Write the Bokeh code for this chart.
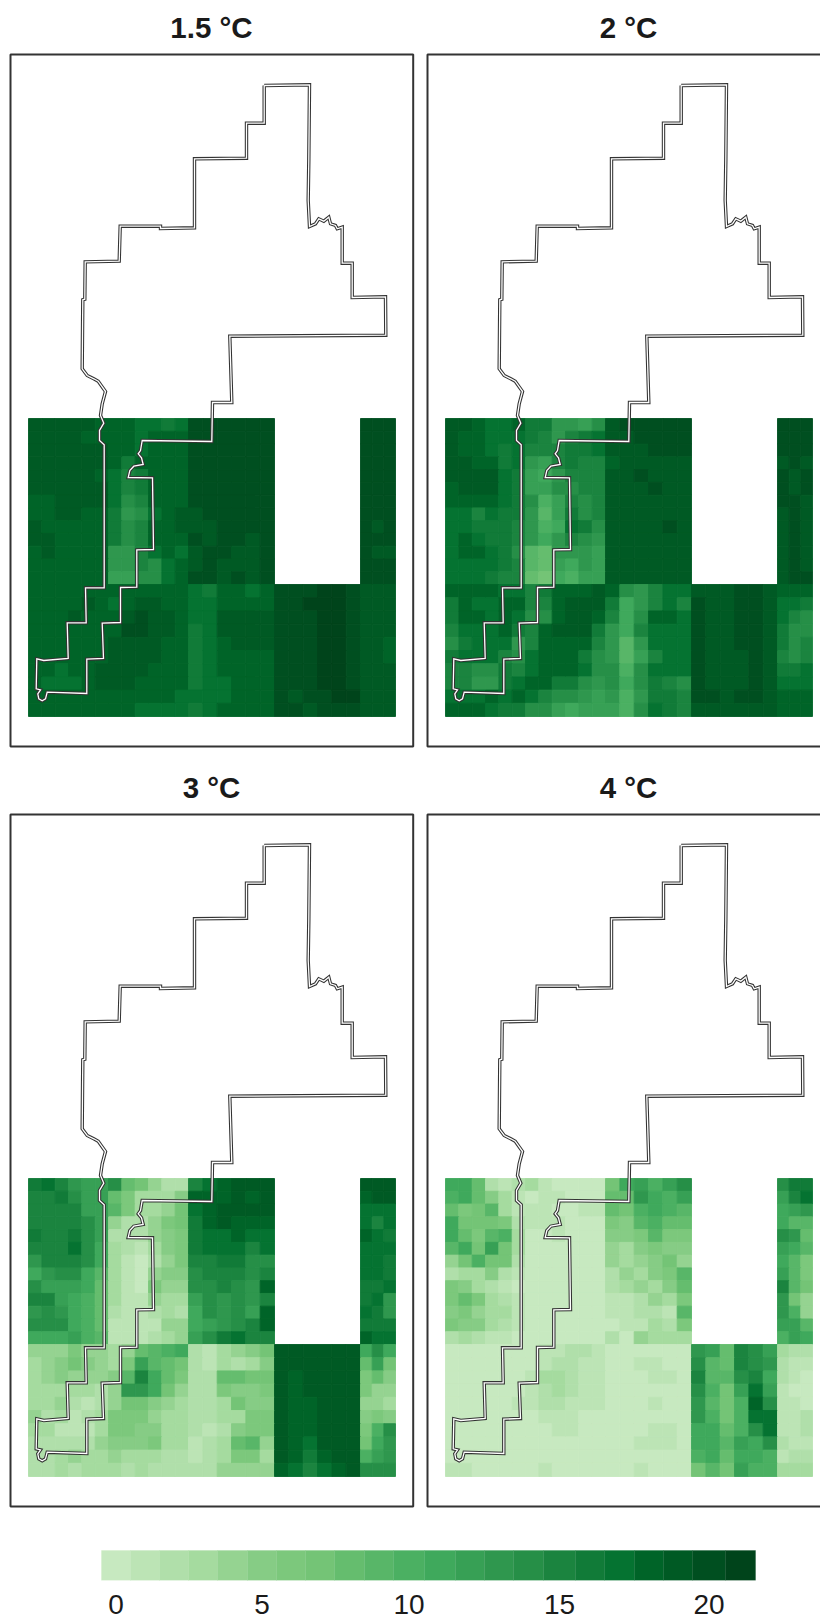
from bokeh.plotting import figure
from bokeh.layouts import column, row
from bokeh.models import ColumnDataSource, LinearColorMapper, FixedTicker, LinearAxis
from bokeh.transform import transform
from bokeh.core.properties import value
from bokeh.embed import file_html
from bokeh.resources import INLINE

TITLES = ["1.5 °C", "2 °C", "3 °C", "4 °C"]
PALETTE = ["#c7e9c0", "#bce4b5", "#b0dfaa", "#a5db9f", "#95d391", "#86cc85", "#7cc87c", "#74c476",
           "#65bd6e", "#58b668", "#4bb062", "#3fa95c", "#37a055", "#2f974e", "#268f47", "#1b843f",
           "#117b38", "#057331", "#006428", "#005a24", "#004f20", "#00441b"]
LEGEND_TICKS = [0, 5, 10, 15, 20]
LEGEND_BREAKS = [101, 130, 159, 188, 217, 247, 276, 305, 334, 364, 393, 424, 455, 484, 513, 543, 575, 604, 634, 663, 692, 725, 755]
N = None

# Map-unit edges of the gridded climate tiles
TILE_X = [28, 188, 274, 360, 395]
TILE_COLS = [12, 6, 6, 3]
TILE_Y = [418, 584, 716]
TILE_ROWS = [13, 10]

PANEL_15 = [
 [19,19,19,19,19,18,18,18,17,17,16,17, 20,20,20,20,20,20, N,N,N,N,N,N, 20,20,20],
 [19,19,19,19,18,18,18,18,17,18,18,18, 20,20,20,20,20,20, N,N,N,N,N,N, 20,20,20],
 [19,19,19,19,19,19,18,18,17,18,18,18, 20,20,20,20,20,20, N,N,N,N,N,N, 20,20,20],
 [19,19,19,19,19,19,18,16,18,18,18,18, 20,20,20,20,20,20, N,N,N,N,N,N, 20,20,20],
 [19,19,19,19,19,18,17,15,16,18,18,18, 20,20,20,20,20,20, N,N,N,N,N,N, 20,20,20],
 [19,19,19,19,19,19,17,15,16,18,18,18, 20,20,20,20,20,20, N,N,N,N,N,N, 20,20,20],
 [18,18,19,19,19,19,17,14,15,18,18,18, 20,20,20,20,20,20, N,N,N,N,N,N, 20,20,20],
 [18,18,19,19,18,18,16,13,14,17,18,19, 19,20,20,20,20,20, N,N,N,N,N,N, 20,20,20],
 [19,18,18,18,18,18,16,14,15,18,18,19, 19,19,20,20,20,20, N,N,N,N,N,N, 20,19,20],
 [19,19,18,18,18,18,16,14,15,18,18,18, 20,19,20,20,19,20, N,N,N,N,N,N, 20,20,20],
 [18,19,18,18,18,18,13,13,15,17,18,17, 19,20,20,19,19,20, N,N,N,N,N,N, 20,19,19],
 [18,18,18,18,18,18,13,13,15,14,17,18, 19,20,19,19,19,20, N,N,N,N,N,N, 20,20,20],
 [18,18,18,18,18,18,12,12,14,14,17,18, 20,20,19,20,19,20, N,N,N,N,N,N, 20,20,20],
 [18,18,18,18,18,18,18,18,18,18,18,18, 17,16,18,18,17,18, 20,20,20,21,21,20, 19,19,19],
 [18,18,18,18,19,18,17,18,19,19,18,18, 17,17,18,18,18,18, 20,20,21,21,21,20, 19,19,19],
 [18,18,18,19,18,18,18,19,20,19,19,18, 17,17,19,19,19,19, 20,20,20,21,21,20, 19,19,19],
 [18,18,18,18,18,18,18,20,20,19,19,18, 16,17,19,19,19,19, 20,20,20,21,21,20, 19,19,19],
 [18,18,18,18,18,18,19,19,19,19,18,18, 16,17,18,19,19,19, 20,20,20,21,21,20, 19,19,18],
 [18,18,18,18,18,18,19,19,19,19,18,18, 16,17,18,18,18,18, 20,20,20,21,21,20, 19,19,18],
 [18,18,17,18,18,19,19,19,19,18,18,18, 16,17,18,18,18,18, 20,20,20,21,21,20, 19,19,19],
 [18,17,17,17,18,19,19,19,18,18,18,18, 16,17,17,18,18,18, 20,20,20,21,21,20, 19,19,19],
 [18,18,18,18,18,18,18,18,18,18,18,17, 17,17,17,18,18,18, 20,19,20,20,21,21, 19,19,19],
 [18,18,18,18,18,18,18,18,17,17,17,17, 16,17,18,18,18,18, 20,20,19,20,20,20, 19,19,19],
]

PANEL_20 = [
 [19,19,18,17,17,18,16,16,13,13,12,14, 19,20,20,20,20,20, N,N,N,N,N,N, 20,20,20],
 [19,18,18,17,17,17,16,15,13,15,16,17, 19,19,20,20,20,20, N,N,N,N,N,N, 20,20,20],
 [19,18,18,17,16,17,15,15,15,16,16,17, 19,19,19,20,20,20, N,N,N,N,N,N, 20,20,20],
 [19,19,18,18,16,17,13,12,15,16,15,15, 18,19,19,19,19,19, N,N,N,N,N,N, 19,20,19],
 [19,19,19,19,17,16,12,11,13,15,15,15, 19,19,20,19,19,19, N,N,N,N,N,N, 20,19,20],
 [18,19,19,19,17,16,12,12,14,14,15,15, 19,19,19,20,19,19, N,N,N,N,N,N, 20,19,20],
 [18,18,18,18,17,16,14,10,12,15,14,15, 19,19,19,19,19,19, N,N,N,N,N,N, 20,20,19],
 [17,17,15,17,16,16,13,9,12,16,14,15, 19,19,19,19,19,19, N,N,N,N,N,N, 19,20,19],
 [17,17,16,16,16,15,13,10,11,17,16,14, 19,19,19,19,20,19, N,N,N,N,N,N, 19,20,19],
 [17,18,17,16,16,15,13,11,13,15,14,13, 19,19,19,19,19,19, N,N,N,N,N,N, 19,20,19],
 [17,18,18,17,16,14,9,8,13,13,13,12, 19,19,19,19,19,19, N,N,N,N,N,N, 19,20,19],
 [17,17,17,17,16,15,9,8,12,11,13,12, 19,19,19,19,19,19, N,N,N,N,N,N, 19,20,19],
 [17,17,17,16,15,15,8,7,11,10,12,12, 19,19,19,19,19,19, N,N,N,N,N,N, 19,20,20],
 [18,18,18,18,17,17,15,16,18,18,18,19, 18,14,13,15,17,17, 19,19,19,20,20,19, 18,18,18],
 [16,18,17,17,18,18,15,15,18,19,19,19, 16,11,13,15,17,15, 20,19,19,20,20,19, 17,17,16],
 [16,18,18,17,18,17,14,14,18,19,19,18, 15,11,14,18,18,17, 20,19,19,20,20,19, 17,15,14],
 [15,17,17,17,18,16,15,18,19,19,19,16, 13,11,15,17,17,17, 20,19,19,20,20,19, 16,14,14],
 [14,16,17,17,17,13,15,18,18,18,18,15, 13,9,13,17,17,17, 20,19,19,20,20,19, 16,14,15],
 [16,17,17,17,15,14,17,18,18,18,16,14, 13,9,12,15,17,17, 20,19,19,19,20,19, 15,14,15],
 [15,15,14,14,16,15,17,18,18,18,17,14, 14,10,14,17,17,17, 20,19,19,19,20,19, 16,16,17],
 [15,15,13,13,16,17,18,18,16,16,14,13, 14,11,14,16,15,14, 20,19,19,19,20,19, 17,17,17],
 [17,17,17,18,17,18,17,15,14,14,13,12, 13,10,13,16,16,15, 20,20,19,20,20,19, 18,18,18],
 [18,18,18,17,16,16,14,14,12,11,12,12, 12,10,14,17,16,15, 19,19,19,19,19,19, 18,18,18],
]

PANEL_30 = [
 [16,17,15,13,12,12,14,8,7,4,2,2, 15,17,18,19,19,19, N,N,N,N,N,N, 19,19,19],
 [15,15,16,14,12,12,8,6,3,3,3,5, 18,18,18,19,18,19, N,N,N,N,N,N, 18,19,19],
 [15,15,15,15,12,12,9,6,3,3,4,7, 17,18,19,19,19,19, N,N,N,N,N,N, 17,17,17],
 [15,15,15,15,14,12,4,2,2,4,6,7, 16,18,19,18,18,18, N,N,N,N,N,N, 17,15,17],
 [16,15,15,16,14,12,2,2,2,4,5,6, 16,17,17,18,17,17, N,N,N,N,N,N, 18,17,16],
 [15,15,15,17,14,11,3,2,1,3,5,6, 16,17,17,17,15,17, N,N,N,N,N,N, 17,17,17],
 [13,15,15,15,14,11,3,1,0,2,4,6, 15,15,16,16,14,14, N,N,N,N,N,N, 17,17,16],
 [11,13,14,14,11,9,3,1,0,4,5,5, 14,15,15,15,14,15, N,N,N,N,N,N, 17,17,16],
 [14,12,12,12,11,8,3,1,0,6,4,4, 14,14,15,14,13,18, N,N,N,N,N,N, 16,16,17],
 [15,15,12,11,10,8,3,1,1,4,3,3, 12,14,13,14,13,15, N,N,N,N,N,N, 16,17,13],
 [13,14,13,11,10,8,2,1,1,2,3,2, 11,14,13,14,12,18, N,N,N,N,N,N, 17,16,13],
 [14,14,14,11,10,8,1,1,1,1,4,4, 11,12,13,14,15,18, N,N,N,N,N,N, 16,16,16],
 [11,11,11,12,10,9,1,1,1,2,3,4, 12,14,16,17,15,15, N,N,N,N,N,N, 18,17,17],
 [4,4,4,6,4,4,3,4,8,9,10,11, 2,1,3,4,5,7, 19,19,19,19,19,19, 11,14,11],
 [3,4,5,7,5,4,3,6,12,9,8,7, 2,1,3,2,3,5, 19,19,19,19,19,19, 8,12,7],
 [3,4,5,4,4,4,5,9,15,11,8,6, 2,2,8,8,7,7, 19,18,19,19,19,19, 6,8,5],
 [3,3,3,3,3,2,4,13,13,11,7,4, 2,2,6,5,5,6, 19,18,19,19,19,19, 6,4,4],
 [3,3,4,2,1,2,4,7,7,5,4,3, 2,2,3,7,5,5, 19,18,18,19,19,19, 4,4,3],
 [4,2,3,1,2,3,6,6,6,4,3,3, 2,2,3,3,6,6, 19,18,18,19,19,19, 5,6,5],
 [3,3,1,1,1,3,6,6,5,5,3,3, 2,1,2,5,6,6, 19,18,18,19,19,19, 6,10,14],
 [2,2,2,2,2,4,5,5,5,6,3,3, 1,2,3,8,9,4, 19,18,17,19,19,19, 7,11,13],
 [2,2,3,4,3,3,4,3,3,3,2,2, 1,2,3,6,6,3, 19,18,16,18,19,19, 10,12,13],
 [2,2,3,2,3,3,3,2,3,2,2,2, 2,2,4,4,4,4, 18,17,15,17,18,19, 14,14,14],
]

PANEL_40 = [
 [11,11,8,2,1,2,3,1,0,0,0,0, 7,11,12,10,12,14, N,N,N,N,N,N, 14,16,16],
 [10,11,8,5,3,1,0,1,1,0,0,0, 8,8,13,11,10,12, N,N,N,N,N,N, 12,15,17],
 [8,6,7,9,3,1,1,1,0,0,1,1, 8,7,10,11,10,9, N,N,N,N,N,N, 11,12,13],
 [11,7,7,7,6,2,1,1,1,0,0,0, 6,5,9,10,8,8, N,N,N,N,N,N, 11,9,9],
 [11,8,6,9,10,3,0,0,1,0,0,0, 5,5,6,9,6,6, N,N,N,N,N,N, 14,13,8],
 [9,11,7,12,7,3,0,0,0,0,0,0, 4,3,5,6,5,5, N,N,N,N,N,N, 12,11,9],
 [4,7,10,7,7,2,0,0,0,0,0,0, 4,3,4,5,7,4, N,N,N,N,N,N, 11,9,6],
 [2,3,3,5,2,1,0,0,0,0,0,0, 2,4,3,5,6,9, N,N,N,N,N,N, 12,9,6],
 [6,5,3,2,1,0,0,0,0,0,0,0, 2,3,4,3,5,8, N,N,N,N,N,N, 15,9,7],
 [6,8,6,3,2,1,0,0,0,0,0,0, 1,1,2,4,3,6, N,N,N,N,N,N, 13,7,4],
 [5,6,4,3,3,1,0,0,0,0,0,0, 1,1,2,2,1,9, N,N,N,N,N,N, 13,10,4],
 [6,5,5,3,2,1,0,0,0,0,0,0, 0,1,1,3,2,6, N,N,N,N,N,N, 12,12,9],
 [2,3,2,1,1,0,0,0,0,0,0,0, 2,0,4,3,3,3, N,N,N,N,N,N, 10,12,11],
 [0,0,0,0,0,0,0,1,1,2,2,1, 0,0,0,0,0,0, 13,12,8,15,14,12, 3,2,2],
 [0,0,0,0,0,0,0,1,2,2,1,1, 0,0,1,1,0,0, 14,9,8,15,14,13, 2,1,1],
 [0,0,0,0,0,0,1,3,3,2,1,1, 0,0,0,1,1,0, 15,9,9,14,15,11, 2,1,0],
 [0,0,0,0,0,0,1,2,3,2,1,1, 0,0,0,0,0,0, 14,10,7,12,17,12, 1,0,0],
 [0,0,0,0,0,1,1,2,2,1,1,1, 0,0,0,1,0,0, 13,9,7,10,18,14, 1,1,0],
 [0,0,0,0,0,0,0,1,1,1,0,0, 0,0,0,0,0,0, 13,10,7,10,17,17, 1,1,2],
 [0,0,0,0,0,0,0,0,1,1,0,0, 0,0,0,1,1,0, 11,11,8,10,14,17, 1,1,2],
 [0,0,0,0,0,0,0,0,0,0,0,0, 0,0,1,1,1,0, 11,11,9,12,11,14, 2,1,1],
 [0,0,0,0,0,0,0,0,0,0,0,0, 0,0,0,0,0,0, 10,11,8,11,11,10, 1,2,2],
 [1,1,0,0,0,0,0,1,0,0,0,0, 0,0,1,0,0,0, 7,9,7,12,10,10, 3,3,3],
]
PANELS = [PANEL_15, PANEL_20, PANEL_30, PANEL_40]

# Boundary of the study region in map units
BOUNDARY_X = [263.7, 309, 308.3, 307.7, 309, 315, 318.3, 323.3, 328.3, 330, 335, 336.7, 341.7, 341.7, 351.7, 351.7,
              385, 385.3, 229.3, 231.3, 212, 211.3, 141.7, 140, 137.7, 141, 142.7, 133.3, 129.3, 127.7, 152, 153,
              136.3, 136.3, 120, 120, 101.7, 103, 86.3, 86.3, 46.7, 45, 41.7, 38.3, 37.3, 40, 35.7, 36.3, 43.3,
              67.7, 66.7, 85.7, 85, 103.7, 103.7, 99, 99, 103.3, 100, 101.7, 105, 97.7, 93.3, 86.7, 81.7, 82.3, 84.3,
              84.7, 118.7, 119.7, 160, 160, 194, 194, 246, 246, 263.7, 263.7]
BOUNDARY_Y = [85, 84.3, 160, 200, 226, 223.3, 218.3, 220.7, 216.7, 223.3, 225, 228.3, 226.7, 262.7, 262.7, 297,
              296.3, 334.7, 335.7, 402, 402, 441, 440, 450, 453.3, 457.3, 464, 465.7, 470, 477, 477.3, 549,
              549.3, 586.7, 587, 622, 622.7, 658, 658.7, 693, 691.7, 698.3, 700.3, 698.3, 693.3, 689.3, 688.3, 658.3, 660,
              658, 622.3, 622.3, 587.3, 587.3, 444.3, 440, 430, 422.7, 415, 403.3, 391, 380.7, 378.3, 375, 368.3, 299.3, 298.7,
              261.3, 260.7, 225.7, 225.7, 228, 227.3, 158.3, 157.7, 122.7, 122.7, 85]

mapper = LinearColorMapper(palette=PALETTE, low=-0.5, high=21.5)


def cells(grid):
    xs0, xs1, ys0, ys1, vals = [], [], [], [], []
    x_edges = []
    for i, n in enumerate(TILE_COLS):
        x_edges += [TILE_X[i] + (TILE_X[i + 1] - TILE_X[i]) * k / n for k in range(n)]
    x_edges.append(TILE_X[-1])
    y_edges = []
    for i, n in enumerate(TILE_ROWS):
        y_edges += [TILE_Y[i] + (TILE_Y[i + 1] - TILE_Y[i]) * k / n for k in range(n)]
    y_edges.append(TILE_Y[-1])
    for r, line in enumerate(grid):
        for c, v in enumerate(line):
            if v is None:
                continue
            xs0.append(x_edges[c]); xs1.append(x_edges[c + 1])
            ys0.append(y_edges[r]); ys1.append(y_edges[r + 1])
            vals.append(v)
    return ColumnDataSource(dict(left=xs0, right=xs1, top=ys0, bottom=ys1, v=vals))


def panel(i):
    left_col = i % 2 == 0
    top_row = i < 2
    w = 425 if left_col else 395
    xr = (0, 425) if left_col else (8, 403)
    yr = (768, 0) if top_row else (776, 8)
    p = figure(width=w, height=768, x_range=xr, y_range=yr,
               x_axis_location=None, y_axis_location=None, toolbar_location=None,
               output_backend="svg", min_border=0, outline_line_color=None)
    p.grid.visible = False
    p.quad(left="left", right="right", top="top", bottom="bottom", source=cells(PANELS[i]),
           fill_color=transform("v", mapper), line_color=transform("v", mapper), line_width=0.9)
    p.quad(left=[10], right=[412.7], top=[54], bottom=[746], fill_color=None,
           line_color="#333333", line_width=2)
    p.line(BOUNDARY_X, BOUNDARY_Y, line_color="#333333", line_width=3.4, line_join="miter")
    p.line(BOUNDARY_X, BOUNDARY_Y, line_color="#ffffff", line_width=1.3, line_join="miter")
    p.text(x=[211], y=[27], text=[TITLES[i]], text_align="center", text_baseline="middle",
           text_font=value("Liberation Sans"), text_font_style="bold", text_font_size="29.5px",
           text_color="#1a1a1a")
    return p


# Legend: x maps page pixels; frame spans page y 1536..1580 with the band on its lower 30 px
legend = figure(width=820, height=85, x_range=(0, 820), y_range=(0, 1),
                x_axis_location=None, y_axis_location=None, toolbar_location=None,
                output_backend="svg", min_border=0, min_border_bottom=41, outline_line_color=None)
legend.grid.visible = False
legend.quad(left=LEGEND_BREAKS[:-1], right=LEGEND_BREAKS[1:], top=[30 / 44] * len(PALETTE),
            bottom=[0] * len(PALETTE), fill_color=PALETTE, line_color=PALETTE, line_width=0.3)
tick_x = [(LEGEND_BREAKS[t] + LEGEND_BREAKS[t + 1]) / 2 for t in LEGEND_TICKS]
axis = LinearAxis(ticker=FixedTicker(ticks=tick_x))
axis.major_label_overrides = {x: str(t) for x, t in zip(tick_x, LEGEND_TICKS)}
axis.axis_line_color = None
axis.major_tick_line_color = None
axis.minor_tick_line_color = None
axis.major_label_text_font = "Liberation Sans"
axis.major_label_text_font_size = "28px"
axis.major_label_text_color = "#1a1a1a"
axis.major_label_standoff = 8
legend.add_layout(axis, "below")

page = column(row(panel(0), panel(1), spacing=0), row(panel(2), panel(3), spacing=0), legend, spacing=0)
open("out.html", "w").write(file_html(page, INLINE))
